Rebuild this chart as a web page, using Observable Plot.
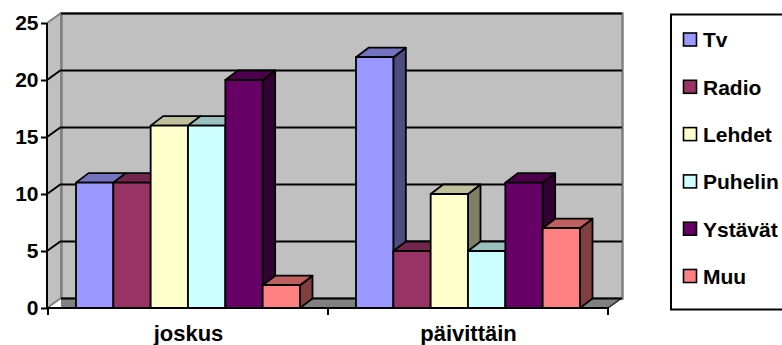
<!DOCTYPE html>
<html>
<head>
<meta charset="utf-8">
<script src="https://cdn.jsdelivr.net/npm/d3@7"></script>
<script src="https://cdn.jsdelivr.net/npm/@observablehq/plot@0.6"></script>
<style>
  body { margin: 0; background: #fff; }
  #chart svg text { font-family: "Liberation Sans", Arial, sans-serif; font-weight: bold; fill: #000; }
  #chart svg g[aria-label^="y-axis"] line,
  #chart svg g[aria-label^="y-axis"] path { stroke-width: 2px; }
  #chart svg g[aria-label^="x-axis"] text { font-size: 22px; }
</style>
</head>
<body>
<div id="chart"></div>
<script>
// Media use survey: how often each source is used
const categories = ["joskus", "päivittäin"];
const seriesNames = ["Tv", "Radio", "Lehdet", "Puhelin", "Ystävät", "Muu"];
const joskusValues = [11, 11, 16, 16, 20, 2];
const paivittainValues = [22, 5, 10, 5, 11, 7];
const seriesColors = ["#9999FF", "#993366", "#FFFFCC", "#CCFFFF", "#660066", "#FF8080"];
const yTicks = [0, 5, 10, 15, 20, 25];

const rows = [];
categories.forEach((category, ci) => {
  const vals = ci === 0 ? joskusValues : paivittainValues;
  seriesNames.forEach((series, si) => rows.push({category, series, value: vals[si]}));
});

// pixel offsets giving the pseudo-3D depth
const wallDepth = [14, -10];
const barDepth = [12.5, -9.5];

function darker(color, k) {
  const c = d3.rgb(color);
  return d3.rgb(c.r * k, c.g * k, c.b * k).formatHex();
}

function polygon(g, pts, fill, stroke, width) {
  return g.append("polygon")
    .attr("points", pts.map((p) => p.join(",")).join(" "))
    .attr("fill", fill)
    .attr("stroke", stroke)
    .attr("stroke-width", width)
    .attr("stroke-linejoin", "round");
}

function line(g, x1, y1, x2, y2, stroke, width) {
  return g.append("line")
    .attr("x1", x1).attr("y1", y1).attr("x2", x2).attr("y2", y2)
    .attr("stroke", stroke).attr("stroke-width", width);
}

// side wall, floor and the side-wall part of the gridlines
function sideWallAndFloor(index, scales, values, dims) {
  const {y} = scales;
  const x0 = dims.marginLeft, x1 = dims.width - dims.marginRight;
  const [dx, dy] = wallDepth;
  const yTop = y(yTicks[yTicks.length - 1]), yBase = y(0);
  const g = d3.create("svg:g");
  polygon(g, [[x0, yTop], [x0 + dx, yTop + dy], [x0 + dx, yBase + dy], [x0, yBase]], "#c0c0c0", "#808080", 2);
  polygon(g, [[x0 + dx, yBase + dy], [x1 + dx, yBase + dy], [x1, yBase], [x0 + dx, yBase]], "#808080", "none", 0);
  line(g, x1, yBase, x1 + dx, yBase + dy, "#222", 1.5);
  for (const t of yTicks.slice(1, -1)) line(g, x0, y(t), x0 + dx, y(t) + dy, "#000", 2);
  return g.node();
}

// clustered 3D bars, drawn left to right so each bar hides its neighbour's side
function bars3d(index, scales) {
  const {x, y} = scales;
  const fillOf = (s) => scales.color ? scales.color(s) : seriesColors[seriesNames.indexOf(s)];
  const bw = x.bandwidth();
  const [dx, dy] = barDepth;
  const inner = d3.scaleBand().domain(seriesNames).padding(0);
  const g = d3.create("svg:g");
  for (const cat of categories) {
    inner.range([x(cat) + bw * 0.1, x(cat) + bw * 0.9]);
    for (const r of rows.filter((d) => d.category === cat)) {
      const xa = inner(r.series), xb = xa + inner.bandwidth();
      const yt = y(r.value), yb = y(0);
      const fill = fillOf(r.series);
      polygon(g, [[xb, yt], [xb + dx, yt + dy], [xb + dx, yb + dy], [xb, yb]], darker(fill, 0.5), "#000", 1.8);
      polygon(g, [[xa, yt], [xb, yt], [xb + dx, yt + dy], [xa + dx, yt + dy]], darker(fill, 0.75), "#000", 1.8);
      polygon(g, [[xa, yt], [xb, yt], [xb, yb], [xa, yb]], fill, "#000", 1.8);
    }
  }
  return g.node();
}

// front axis lines and category boundary ticks
function frontAxes(index, scales, values, dims) {
  const {x, y} = scales;
  const x0 = dims.marginLeft, x1 = dims.width - dims.marginRight;
  const g = d3.create("svg:g");
  line(g, x0, y(0), x0, y(yTicks[yTicks.length - 1]), "#000", 2);
  line(g, x0 - 1, y(0), x1 + 1, y(0), "#000", 2);
  const bounds = new Set();
  for (const cat of categories) { bounds.add(x(cat)); bounds.add(x(cat) + x.bandwidth()); }
  for (const b of bounds) line(g, b, y(0), b, y(0) + 7, "#000", 2);
  return g.node();
}

// series legend at the right
function legend(index, scales) {
  const fillOf = (s) => scales.color ? scales.color(s) : seriesColors[seriesNames.indexOf(s)];
  const g = d3.create("svg:g");
  g.append("rect").attr("x", 671).attr("y", 14.5).attr("width", 130).attr("height", 295)
    .attr("fill", "#fff").attr("stroke", "#000").attr("stroke-width", 2);
  seriesNames.forEach((s, i) => {
    const cy = 40 + i * 47.3;
    g.append("rect").attr("x", 683.5).attr("y", cy - 7).attr("width", 13).attr("height", 13)
      .attr("fill", fillOf(s)).attr("stroke", "#000").attr("stroke-width", 1.6);
    g.append("text").attr("x", 703).attr("y", cy).attr("dy", "0.35em")
      .attr("text-anchor", "start").style("font-size", "21px").text(s);
  });
  return g.node();
}

const chart = Plot.plot({
  width: 782,
  height: 345,
  marginLeft: 47,
  marginRight: 174,
  marginTop: 23,
  marginBottom: 37,
  style: {
    fontFamily: "'Liberation Sans', Arial, sans-serif",
    fontWeight: "bold",
    fontSize: "21px",
    color: "#000",
    background: "#fff"
  },
  x: {type: "band", domain: categories, padding: 0, tickSize: 0, tickPadding: 17, label: null},
  y: {domain: [0, 25], ticks: yTicks, tickSize: 6, tickPadding: 3, label: null},
  color: {type: "ordinal", domain: seriesNames, range: seriesColors},
  marks: [
    Plot.frame({fill: "#c0c0c0", stroke: "#808080", strokeWidth: 2.5, dx: wallDepth[0], dy: wallDepth[1]}),
    sideWallAndFloor,
    Plot.ruleY(yTicks, {stroke: "#000", strokeWidth: 2, dx: wallDepth[0], dy: wallDepth[1]}),
    bars3d,
    frontAxes,
    legend
  ]
});

document.getElementById("chart").append(chart);
</script>
</body>
</html>
